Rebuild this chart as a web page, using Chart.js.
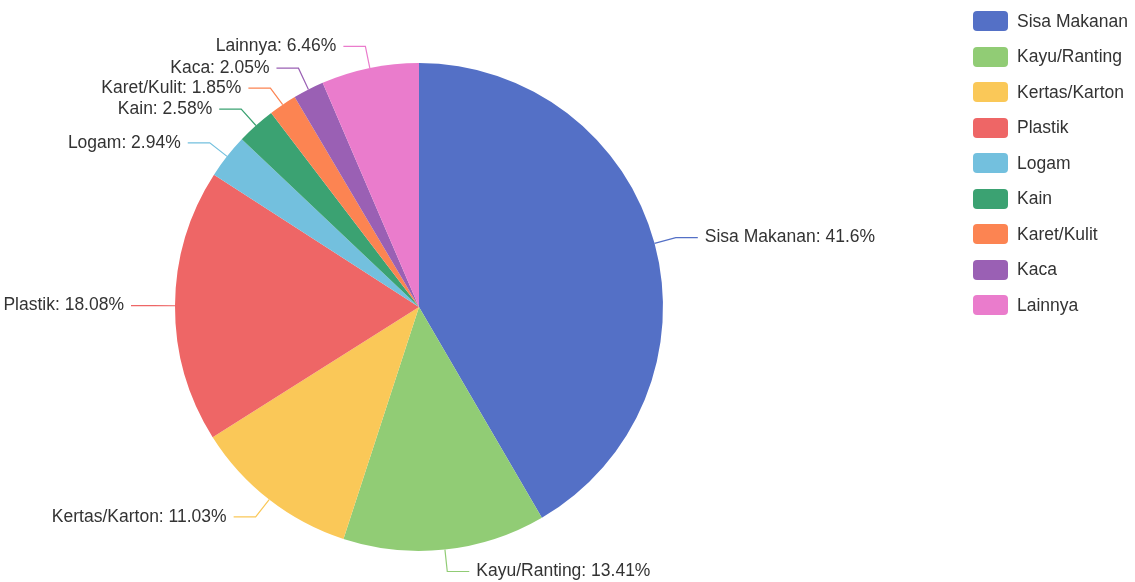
<!DOCTYPE html>
<html>
<head>
<meta charset="utf-8">
<script src="https://cdn.jsdelivr.net/npm/chart.js@4/dist/chart.umd.min.js"></script>
<style>
    body { margin: 0; background: #fff; }
    #wrap { position: relative; width: 1135px; height: 582px; }
    #legend { position: absolute; left: 973px; top: 11px; list-style: none; margin: 0; padding: 0;
        font-family: "Liberation Sans", Arial, sans-serif; font-size: 17.5px; color: #333; }
    #legend li { display: flex; align-items: center; height: 20px; margin-bottom: 15.5px; }
    #legend span { display: inline-block; width: 35px; height: 20px; border-radius: 4px; margin-right: 9px; }
</style>
</head>
<body>
<div id="wrap">
    <canvas id="graph" width="1135" height="582"></canvas>
    <ul id="legend"></ul>
</div>
<script>
const categorias = ['Sisa Makanan', 'Kayu/Ranting', 'Kertas/Karton', 'Plastik', 'Logam', 'Kain', 'Karet/Kulit', 'Kaca', 'Lainnya']
const percents = [41.6, 13.41, 11.03, 18.08, 2.94, 2.58, 1.85, 2.05, 6.46]
const colors = ['#5470c6', '#91cc75', '#fac858', '#ee6666', '#73c0de', '#3ba272', '#fc8452', '#9a60b4', '#ea7ccc']

// legend as html list
const ul = document.querySelector('#legend')
for (let i = 0; i < categorias.length; i++) {
    const li = document.createElement('li')
    const box = document.createElement('span')
    box.style.background = colors[i]
    li.appendChild(box)
    li.appendChild(document.createTextNode(categorias[i]))
    ul.appendChild(li)
}

// labels with leader lines, echarts style
const outsideLabels = {
    id: 'outsideLabels',
    afterDatasetsDraw(chart) {
        const ctx = chart.ctx
        const meta = chart.getDatasetMeta(0)
        const len1 = 22, len2 = 22, gap = 7, minGap = 20
        const items = []
        meta.data.forEach((arc, i) => {
            const p = arc.getProps(['x', 'y', 'startAngle', 'endAngle', 'outerRadius'], true)
            const mid = (p.startAngle + p.endAngle) / 2
            const cos = Math.cos(mid), sin = Math.sin(mid)
            items.push({
                i: i,
                right: cos >= 0,
                sx: p.x + cos * p.outerRadius, sy: p.y + sin * p.outerRadius,
                ex: p.x + cos * (p.outerRadius + len1), ey: p.y + sin * (p.outerRadius + len1)
            })
        })
        // push overlapping labels apart on each side
        ;[true, false].forEach(side => {
            const list = items.filter(it => it.right === side).sort((a, b) => a.ey - b.ey)
            for (let k = 0; k < 20; k++) {
                for (let j = 1; j < list.length; j++) {
                    const d = list[j].ey - list[j - 1].ey
                    if (d < minGap) {
                        const m = (minGap - d) / 2
                        list[j - 1].ey -= m
                        list[j].ey += m
                    }
                }
            }
        })
        ctx.save()
        ctx.font = '17.5px "Liberation Sans", Arial, sans-serif'
        ctx.textBaseline = 'middle'
        items.forEach(it => {
            const dir = it.right ? 1 : -1
            const hx = it.ex + dir * len2
            ctx.strokeStyle = colors[it.i]
            ctx.lineWidth = 1.2
            ctx.beginPath()
            ctx.moveTo(it.sx, it.sy)
            ctx.lineTo(it.ex, it.ey)
            ctx.lineTo(hx, it.ey)
            ctx.stroke()
            ctx.fillStyle = '#333'
            ctx.textAlign = it.right ? 'left' : 'right'
            ctx.fillText(`${categorias[it.i]}: ${percents[it.i]}%`, hx + dir * gap, it.ey)
        })
        ctx.restore()
    }
}

const ctx = document.querySelector('#graph').getContext('2d')
new Chart(ctx, {
    type: 'pie',
    data: {
        labels: categorias,
        datasets: [{
            data: percents,
            backgroundColor: colors,
            borderWidth: 0
        }]
    },
    options: {
        responsive: false,
        animation: false,
        layout: { padding: { left: 0, right: 297, top: 63, bottom: 31 } },
        plugins: {
            legend: { display: false },
            tooltip: { enabled: false }
        }
    },
    plugins: [outsideLabels]
})
</script>
</body>
</html>
